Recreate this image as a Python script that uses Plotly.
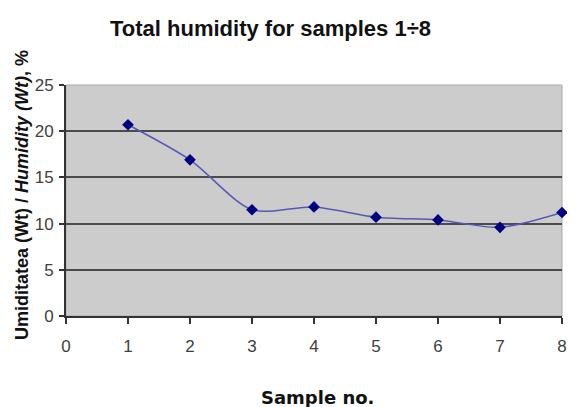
import plotly.graph_objects as go

samples = [1, 2, 3, 4, 5, 6, 7, 8]
humidity = [20.7, 16.9, 11.5, 11.8, 10.7, 10.4, 9.6, 11.2]
x_ticks = [0, 1, 2, 3, 4, 5, 6, 7, 8]
y_ticks = [0, 5, 10, 15, 20, 25]

# page body has an 8px margin, the figure div starts at (8, 8)
OFF = 8
W, H = 575 - 2 * OFF, 407 - OFF
L, R, T, B = 66 - OFF, W - (562 - OFF), 85 - OFF, H - (316 - OFF)
PW, PH = W - L - R, H - T - B


def px(x):
    return (x - OFF - L) / PW


def py(y):
    return (H - B - (y - OFF)) / PH


fig = go.Figure()
fig.add_trace(go.Scatter(
    x=samples, y=humidity, mode="lines+markers",
    line=dict(color="#5858b4", width=1.5, shape="spline", smoothing=0.8),
    marker=dict(symbol="diamond", size=9, color="#000080"),
    showlegend=False, cliponaxis=False,
))

NARROW = "Liberation Sans Narrow, Arial Narrow, Liberation Sans, sans-serif"
SANS = "Liberation Sans, Arial, sans-serif"

fig.update_layout(
    width=W, height=H,
    margin=dict(l=L, r=R, t=T, b=B, autoexpand=False),
    paper_bgcolor="white",
    plot_bgcolor="#cccccc",
    font=dict(family=SANS, color="#333333"),
    annotations=[
        dict(text="<b>Total humidity for samples 1÷8</b>", x=px(270), y=py(28),
             xref="paper", yref="paper", showarrow=False, xanchor="center", yanchor="middle",
             font=dict(size=22, color="#111111", family=SANS)),
        dict(text="<b>Umiditatea (Wt) / <i>Humidity (Wt)</i>, %</b>", x=px(22), y=py(195),
             xref="paper", yref="paper", showarrow=False, textangle=-90,
             xanchor="center", yanchor="middle",
             font=dict(size=18, color="#111111", family=SANS)),
        dict(text="<b>Sample no.</b>", x=px(317), y=py(397),
             xref="paper", yref="paper", showarrow=False, xanchor="center", yanchor="middle",
             font=dict(size=18, color="#111111", family="DejaVu Sans, Verdana, sans-serif")),
    ],
)

fig.update_xaxes(
    range=[0, 8], tickvals=x_ticks, ticks="outside", ticklen=6,
    tickcolor="#333333", tickwidth=1.5,
    showgrid=False, zeroline=False,
    showline=True, linecolor="#333333", linewidth=2,
    tickfont=dict(size=17, color="#404040", family=NARROW),
    ticklabelstandoff=8, ticklabeloverflow="allow",
)
fig.update_yaxes(
    range=[0, 25], tickvals=y_ticks, ticks="outside", ticklen=5,
    tickcolor="#333333", tickwidth=1.5,
    showgrid=True, gridcolor="#4a4a4a", gridwidth=2,
    zeroline=False,
    showline=True, linecolor="#333333", linewidth=2,
    tickfont=dict(size=17, color="#404040", family=NARROW),
    ticklabelstandoff=2,
)
fig.add_shape(type="rect", xref="paper", yref="paper", x0=0, x1=1, y0=0, y1=1,
              line=dict(color="#aaaaaa", width=1), layer="below")

fig.write_html("out.html")
